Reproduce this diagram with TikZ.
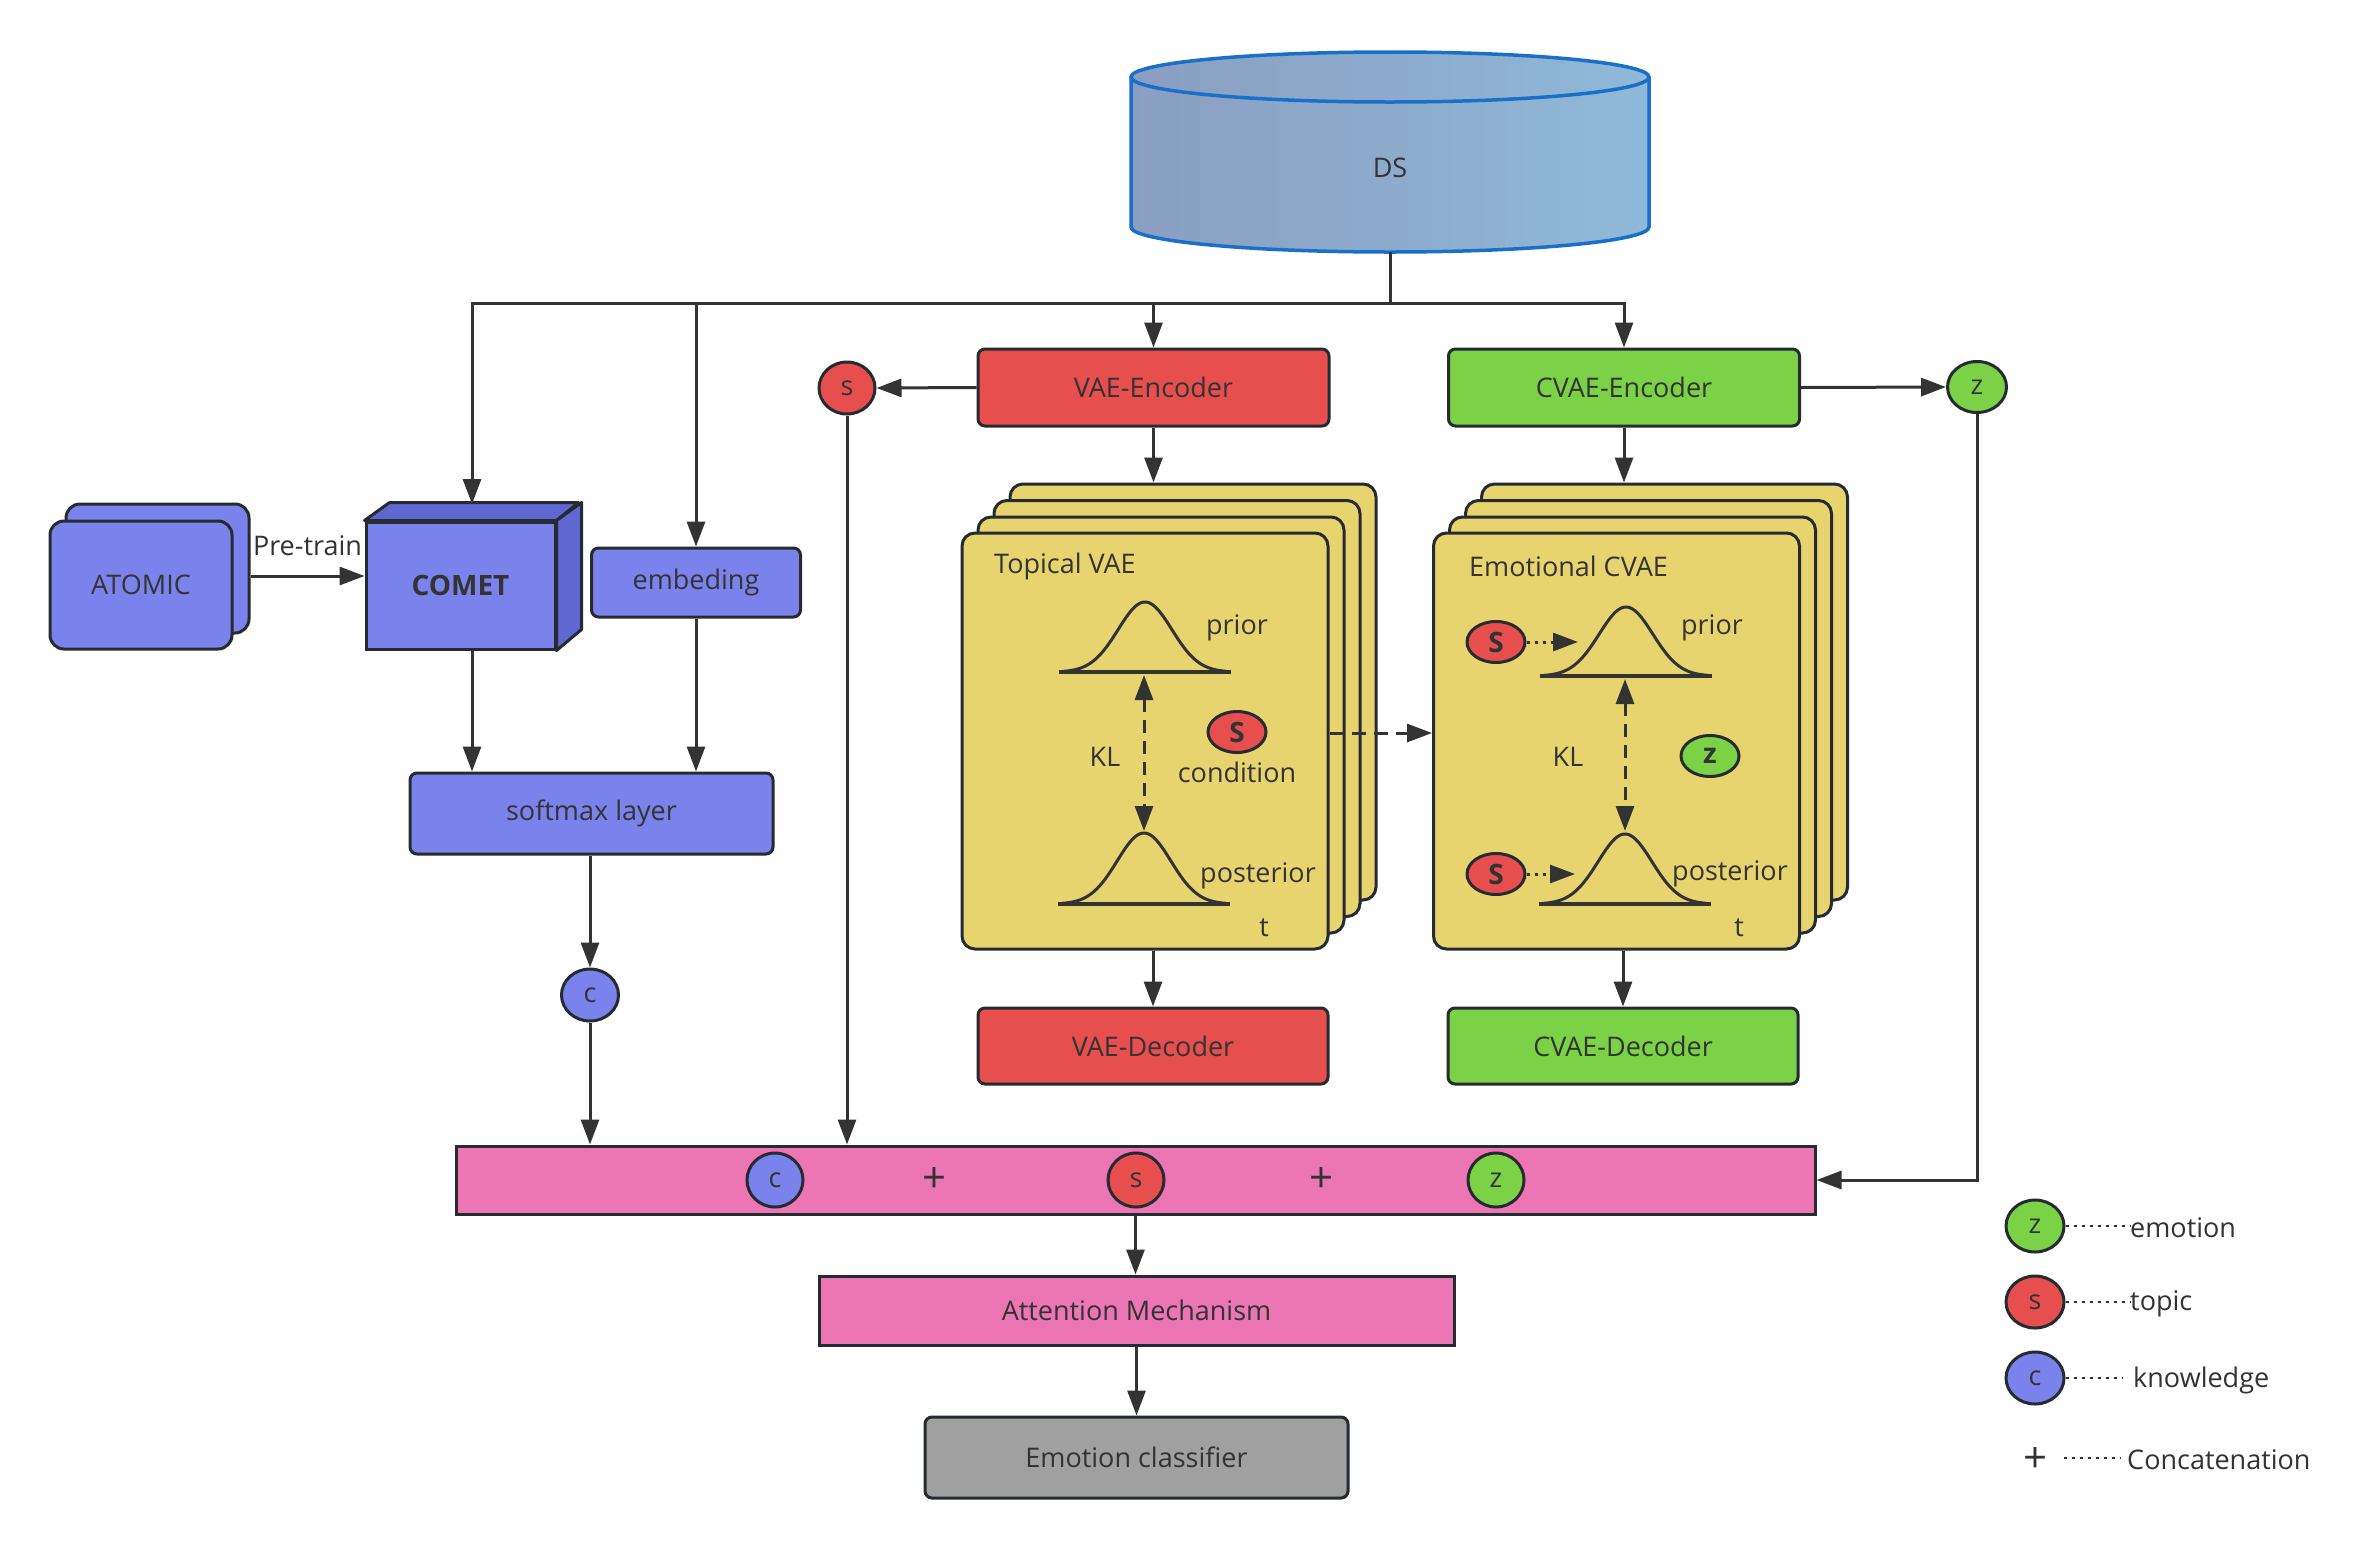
\documentclass[tikz,border=0pt]{standalone}
\usepackage{fontspec}
\setmainfont{Open Sans}
\usetikzlibrary{arrows.meta,shapes.geometric,calc}

\definecolor{ink}{HTML}{333333}
\definecolor{edge}{HTML}{262A31}
\definecolor{kblue}{HTML}{7A83EB}
\definecolor{kblueD}{HTML}{5F68D1}
\definecolor{tred}{HTML}{E74F4F}
\definecolor{egreen}{HTML}{7BD246}
\definecolor{cardy}{HTML}{E8D46F}
\definecolor{pinkc}{HTML}{EC75B3}
\definecolor{greyc}{HTML}{A0A0A0}
\definecolor{dsL}{HTML}{8A9EC0}
\definecolor{dsR}{HTML}{8FB9D9}
\definecolor{dsEdge}{HTML}{1A6FC9}

% Gaussian bump on a base line: centre x, base y, height
\newcommand\bellcurve[3]{%
  \draw[line width=3pt, line join=round, draw=ink]
    plot[domain=-82:82, samples=81] ({#1+\x},{#2-#3*exp(-(\x/38)*(\x/38))});
  \draw[line width=3.5pt, draw=ink] (#1-86,#2) -- (#1+86,#2);}

\begin{document}
\begin{tikzpicture}[x=1pt, y=-1pt,
  font=\fontsize{27}{33}\selectfont, text=ink,
  every node/.style={inner sep=0pt},
  box/.style={draw=edge, line width=3pt, rounded corners=7pt},
  sqbox/.style={draw=edge, line width=3pt},
  card/.style={draw=edge, line width=3pt, rounded corners=13pt, fill=cardy,
               minimum width=366pt, minimum height=416pt},
  token/.style={ellipse, draw=edge, line width=3pt, minimum width=57pt, minimum height=52pt},
  flat/.style={ellipse, draw=edge, line width=3pt, minimum width=58pt, minimum height=41pt, font=\fontsize{28}{34}\selectfont\bfseries},
  arr/.style={-{Triangle[length=25pt,width=18pt]}, line width=3pt, draw=ink},
  dbl/.style={{Triangle[length=25pt,width=18pt]}-{Triangle[length=25pt,width=18pt]}, line width=3pt, draw=ink, dash pattern=on 13pt off 8pt},
  dots/.style={line width=3pt, draw=ink, dash pattern=on 3pt off 5pt},
  plus/.style={font=\fontsize{42}{42}\selectfont},
]
\fill[white] (0,0) rectangle (2363,1548);
\useasboundingbox (0,0) rectangle (2363,1548);

% ---------- data store cylinder ----------
\fill[left color=dsL, right color=dsR]
  (1131,77) -- (1131,227) arc[start angle=180, end angle=0, x radius=259, y radius=25]
  -- (1649,77) arc[start angle=0, end angle=-180, x radius=259, y radius=25] -- cycle;
\draw[dsEdge, line width=3.5pt]
  (1131,77) -- (1131,227) arc[start angle=180, end angle=0, x radius=259, y radius=25]
  -- (1649,77);
\draw[dsEdge, line width=3.5pt] (1390,77) ellipse[x radius=259, y radius=25];
\node[minimum width=518pt, minimum height=200pt] (ds) at (1390,152) {};
\node (dstext) at (1390,168) {DS};
\coordinate (split) at (1390,303);

% ---------- knowledge branch ----------
\node[box, rounded corners=14pt, fill=kblue, minimum width=183pt, minimum height=129pt] (atomicB) at (157.5,568.5) {};
\node[box, rounded corners=14pt, fill=kblue, minimum width=182pt, minimum height=128pt] (atomic) at (141,585) {ATOMIC};

\node[sqbox, fill=kblue, minimum width=189pt, minimum height=127pt,
      font=\fontsize{28}{34}\selectfont\bfseries] (comet) at (460.5,585.5) {COMET};
\draw[edge, line width=3pt, fill=kblueD, line join=round]
  (comet.north west) -- ++(25,-18) -- ++(189,0) -- (comet.north east) -- cycle;
\draw[edge, line width=3pt, fill=kblueD, line join=round]
  (comet.north east) -- ++(25,-18) -- ++(0,127) -- (comet.south east) -- cycle;
\coordinate (cometTop) at (472,504);

\node[box, fill=kblue, minimum width=209pt, minimum height=69pt] (embed) at (696,582.5) {embeding};
\node[box, fill=kblue, minimum width=363pt, minimum height=81pt] (softmax) at (591.5,813.5) {softmax layer};
\node[token, fill=kblue] (ck) at (590,995) {c};

% ---------- encoders ----------
\node[box, fill=tred, minimum width=351pt, minimum height=77pt] (vaeenc) at (1153.5,387.5) {VAE-Encoder};
\node[box, fill=egreen, minimum width=351pt, minimum height=77pt] (cvaeenc) at (1624,387.5) {CVAE-Encoder};
\node[token, fill=tred, minimum width=56pt] (stop) at (847,388) {s};
\node[token, fill=egreen, minimum width=59pt, minimum height=51pt] (ztop) at (1977,387) {z};

% ---------- topical VAE stack ----------
\node[card] (t4) at (1193,692) {};
\node[card] (t3) at (1177,708.5) {};
\node[card] (t2) at (1161,725) {};
\node[card] (tfront) at (1145,741) {};
\node[anchor=west] (ttitle) at (994,566) {Topical VAE};
\bellcurve{1145}{672}{70}
\bellcurve{1144}{904}{71}
\node (tprior) at (1237,628) {prior};
\node (tpost) at (1258,876) {posterior};
\coordinate (tklA) at (1144,675);
\coordinate (tklB) at (1144,831);
\draw[dbl] (tklA) -- (tklB);
\node (tkl) at (1105,757) {KL};
\node[flat, fill=tred] (tcond) at (1237,732) {S};
\node (tcondtext) at (1237,772) {condition};
\node (tt) at (1264,928) {t};

% ---------- emotional CVAE stack ----------
\node[card] (e4) at (1664.5,692) {};
\node[card] (e3) at (1648.5,708.5) {};
\node[card] (e2) at (1632.5,725) {};
\node[card] (efront) at (1616.5,741) {};
\node[anchor=west] (etitle) at (1469,566) {Emotional CVAE};
\bellcurve{1626}{676}{69}
\bellcurve{1625}{904}{70}
\node (eprior) at (1712,628) {prior};
\node (epost) at (1730,874) {posterior};
\coordinate (eklA) at (1625,679);
\coordinate (eklB) at (1625,831);
\draw[dbl] (eklA) -- (eklB);
\node (ekl) at (1568,757) {KL};
\node[flat, fill=egreen] (ez) at (1710,756) {z};
\node[flat, fill=tred] (es1) at (1496,642) {S};
\node[flat, fill=tred] (es2) at (1496,874) {S};
\coordinate (eb1) at (1578,642);
\coordinate (eb2) at (1575,874);
\draw[-{Triangle[length=25pt,width=18pt]}, dots] (es1.east) -- (eb1);
\draw[-{Triangle[length=25pt,width=18pt]}, dots] (es2.east) -- (eb2);
\node (et) at (1739,928) {t};

% ---------- decoders ----------
\node[box, fill=tred, minimum width=350pt, minimum height=76pt] (vaedec) at (1153,1046) {VAE-Decoder};
\node[box, fill=egreen, minimum width=350pt, minimum height=76pt] (cvaedec) at (1623,1046) {CVAE-Decoder};

% ---------- fusion and classification ----------
\node[sqbox, fill=pinkc, minimum width=1359pt, minimum height=68pt] (bar) at (1135.5,1180) {};
\node[token, fill=kblue, minimum width=56pt, minimum height=54pt] (bc) at (775,1180) {c};
\node[plus] (p1) at (934,1180) {+};
\node[token, fill=tred, minimum width=56pt, minimum height=54pt] (bs) at (1136,1180) {s};
\node[plus] (p2) at (1321,1180) {+};
\node[token, fill=egreen, minimum width=56pt, minimum height=54pt] (bz) at (1496,1180) {z};

\node[sqbox, fill=pinkc, minimum width=635pt, minimum height=69pt] (attn) at (1136.5,1310.5) {Attention Mechanism};
\node[box, fill=greyc, minimum width=423pt, minimum height=81pt] (cls) at (1136.5,1457.5) {Emotion classifier};

% ---------- connectors ----------
\draw[line width=3pt, draw=ink] (ds.south) -- (split);
\draw[arr] (split) -| (cometTop);
\draw[arr] (split) -| (embed.north);
\draw[arr] (split) -| (vaeenc.north);
\draw[arr] (split) -| (cvaeenc.north);

\draw[arr] ([yshift=-7.5pt]atomicB.east) -- ([yshift=-7.5pt]atomicB.east -| comet.west)
  node[midway, yshift=30pt] (pretrain) {Pre-train};
\draw[arr] (comet.south -| cometTop) -- (cometTop |- softmax.north);
\draw[arr] (embed.south) -- (embed.south |- softmax.north);
\draw[arr] (ck.north |- softmax.south) -- (ck.north);
\draw[arr] (ck.south) -- (ck.south |- bar.north);

\draw[arr] (vaeenc.west) -- (stop.east);
\draw[arr] (cvaeenc.east) -- (ztop.west);
\draw[arr] (stop.south) -- (stop.south |- bar.north);
\draw[arr] (ztop.south) |- (bar.east);

\draw[arr] (vaeenc.south) -- (vaeenc.south |- t4.north);
\draw[arr] (cvaeenc.south) -- (cvaeenc.south |- e4.north);
\draw[arr] (vaedec.north |- tfront.south) -- (vaedec.north);
\draw[arr] (cvaedec.north |- efront.south) -- (cvaedec.north);
\draw[arr, dash pattern=on 14pt off 8pt] ([yshift=8pt]tfront.east) -- ([yshift=8pt]efront.west);

\draw[arr] (bar.south) -- (bar.south |- attn.north);
\draw[arr] (attn.south) -- (attn.south |- cls.north);

% ---------- legend ----------
\node[token, fill=egreen, minimum width=58pt] (lz) at (2035,1226) {z};
\node[token, fill=tred, minimum width=58pt] (ls) at (2035,1302) {s};
\node[token, fill=kblue, minimum width=58pt] (lc) at (2035,1378) {c};
\node[plus] (lp) at (2035,1460) {+};
\node[anchor=west] (lzt) at (2130,1228) {emotion};
\node[anchor=west] (lst) at (2130,1304) {topic};
\node[anchor=west] (lct) at (2133,1380) {knowledge};
\node[anchor=west] (lpt) at (2127,1460) {Concatenation};
\draw[dots, line width=2.5pt] (lz.east) -- (lz.east -| lzt.west);
\draw[dots, line width=2.5pt] (ls.east) -- (ls.east -| lst.west);
\draw[dots, line width=2.5pt] (lc.east) -- ([xshift=-10pt]lc.east -| lct.west);
\draw[dots, line width=2.5pt] (2064,1458) -- ([xshift=-6pt]lpt.west |- 0,1458);
\end{tikzpicture}
\end{document}
